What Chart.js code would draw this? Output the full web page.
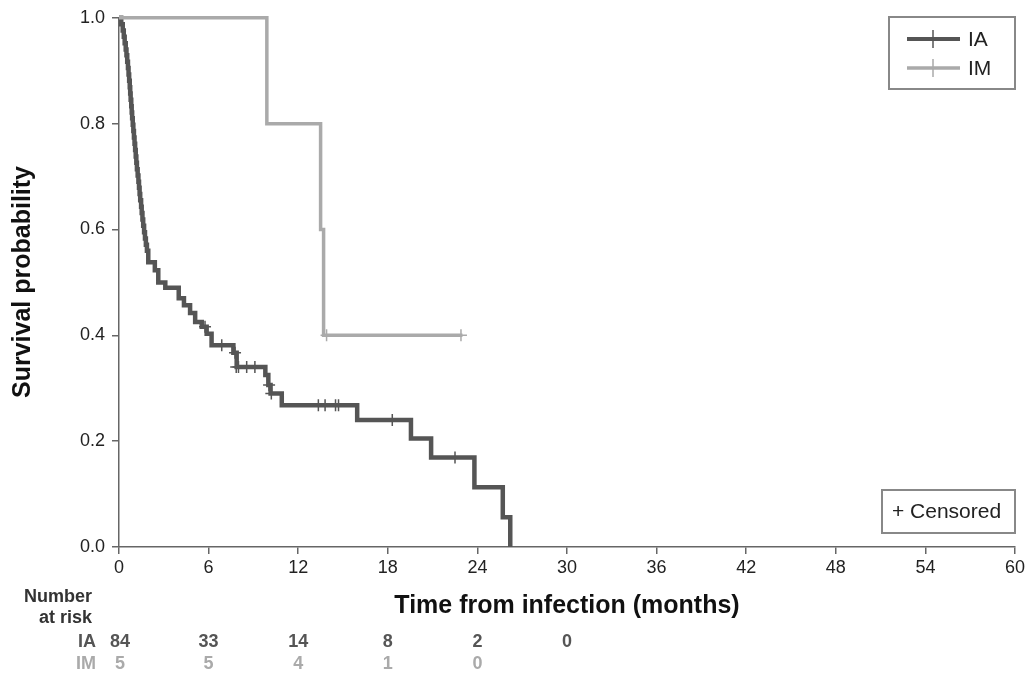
<!DOCTYPE html>
<html>
<head>
<meta charset="utf-8">
<script src="https://cdn.jsdelivr.net/npm/chart.js@4.4.1/dist/chart.umd.min.js"></script>
<style>
  html, body { margin: 0; padding: 0; background: #fff; }
</style>
</head>
<body>
<canvas id="kmChart" width="1033" height="677"></canvas>
<script>
// IA group: time of each drop (months) and survival after it
const iaTimes = [0, 0.15, 0.25, 0.32, 0.38, 0.45, 0.5, 0.55, 0.6, 0.64, 0.68, 0.72, 0.75, 0.78, 0.82,
  0.85, 0.88, 0.92, 0.96, 1.0, 1.04, 1.08, 1.12, 1.16, 1.2, 1.25, 1.3, 1.34, 1.38, 1.42, 1.48,
  1.52, 1.57, 1.62, 1.68, 1.74, 1.8, 1.87, 1.96, 2.4, 2.63, 3.1, 4.0, 4.35, 4.76, 5.1, 5.54,
  5.87, 6.2, 7.66, 7.88, 9.8, 10.0, 10.15, 10.9, 15.95, 19.55, 20.9, 23.8, 25.7, 26.2];
const iaSurv = [1, 0.988, 0.976, 0.964, 0.952, 0.94, 0.929, 0.917, 0.905, 0.893, 0.881, 0.869, 0.857, 0.845, 0.833,
  0.821, 0.81, 0.798, 0.786, 0.774, 0.762, 0.75, 0.738, 0.726, 0.714, 0.702, 0.69, 0.679, 0.667, 0.655, 0.643,
  0.631, 0.619, 0.607, 0.595, 0.583, 0.571, 0.56, 0.538, 0.523, 0.50, 0.49, 0.47, 0.457, 0.442, 0.425, 0.416,
  0.403, 0.381, 0.367, 0.34, 0.325, 0.306, 0.29, 0.268, 0.24, 0.205, 0.169, 0.113, 0.056, 0];
const iaCensorTimes = [5.76, 6.88, 7.77, 7.85, 8.0, 8.55, 9.1, 10.05, 10.2, 13.35, 13.8, 14.5, 14.7, 18.3, 22.5];
const iaCensorSurv = [0.416, 0.381, 0.367, 0.34, 0.34, 0.34, 0.34, 0.306, 0.29, 0.268, 0.268, 0.268, 0.268, 0.24, 0.169];

// IM group
const imTimes = [0, 9.9, 13.5, 13.7, 23.0];
const imSurv = [1, 0.8, 0.6, 0.4, 0.4];
const imCensorTimes = [13.9, 22.9];
const imCensorSurv = [0.4, 0.4];

// number at risk table
const riskTimes = [0, 6, 12, 18, 24, 30];
const iaAtRisk = [84, 33, 14, 8, 2, 0];
const imAtRisk = [5, 5, 4, 1, 0];

const IA_COLOR = '#555555';
const IM_COLOR = '#aaaaaa';
const FONT = '"Liberation Sans", Arial, sans-serif';

function pts(xs, ys) {
  return xs.map((t, i) => ({ x: t, y: ys[i] }));
}

const extras = {
  id: 'extras',
  afterDraw(chart) {
    const { ctx, scales: { x } } = chart;
    ctx.save();

    // y axis title
    ctx.fillStyle = '#111';
    ctx.font = 'bold 25px ' + FONT;
    ctx.textAlign = 'center';
    ctx.textBaseline = 'middle';
    ctx.save();
    ctx.translate(23, 282);
    ctx.rotate(-Math.PI / 2);
    ctx.fillText('Survival probability', 0, 0);
    ctx.restore();

    // x axis title
    ctx.fillText('Time from infection (months)', 567, 606);

    // legend box
    ctx.strokeStyle = '#888';
    ctx.lineWidth = 2;
    ctx.strokeRect(889, 17, 126, 72);
    [[IA_COLOR, 'IA', 39, 4], [IM_COLOR, 'IM', 68, 3.5]].forEach(([col, txt, y, lw]) => {
      ctx.strokeStyle = col;
      ctx.lineWidth = lw;
      ctx.beginPath(); ctx.moveTo(907, y); ctx.lineTo(960, y); ctx.stroke();
      ctx.lineWidth = 1.5;
      ctx.beginPath(); ctx.moveTo(933, y - 9); ctx.lineTo(933, y + 9); ctx.stroke();
      ctx.fillStyle = '#222';
      ctx.font = '21px ' + FONT;
      ctx.textAlign = 'left';
      ctx.fillText(txt, 968, y + 1);
    });

    // censored box
    ctx.strokeStyle = '#888';
    ctx.lineWidth = 2;
    ctx.strokeRect(882, 490, 133, 43);
    ctx.fillStyle = '#222';
    ctx.fillText('+ Censored', 892, 512);

    // number at risk
    ctx.font = 'bold 18px ' + FONT;
    ctx.fillStyle = '#333';
    ctx.textAlign = 'right';
    ctx.fillText('Number', 92, 597);
    ctx.fillText('at risk', 92, 618);
    [[iaAtRisk, IA_COLOR, 'IA', 642], [imAtRisk, IM_COLOR, 'IM', 664]].forEach(([vals, col, lab, y]) => {
      ctx.fillStyle = col;
      ctx.textAlign = 'right';
      ctx.fillText(lab, 96, y);
      ctx.textAlign = 'center';
      vals.forEach((v, i) => ctx.fillText(String(v), x.getPixelForValue(riskTimes[i]) + (i === 0 ? 1 : 0), y));
    });
    ctx.restore();
  }
};

new Chart(document.getElementById('kmChart'), {
  type: 'line',
  data: {
    datasets: [{
      label: 'IM',
      data: pts(imTimes, imSurv),
      stepped: true,
      borderColor: IM_COLOR,
      borderWidth: 3.5,
      pointRadius: 0,
      fill: false,
      clip: false
    }, {
      label: 'IA',
      data: pts(iaTimes, iaSurv),
      stepped: true,
      borderColor: IA_COLOR,
      borderWidth: 4.5,
      pointRadius: 0,
      fill: false,
      clip: false
    }, {
      type: 'scatter',
      label: 'IA censored',
      data: pts(iaCensorTimes, iaCensorSurv),
      pointStyle: 'cross',
      pointRadius: 6,
      pointBorderWidth: 1.5,
      pointBorderColor: IA_COLOR,
      clip: false
    }, {
      type: 'scatter',
      label: 'IM censored',
      data: pts(imCensorTimes, imCensorSurv),
      pointStyle: 'cross',
      pointRadius: 6,
      pointBorderWidth: 1.5,
      pointBorderColor: IM_COLOR,
      clip: false
    }]
  },
  options: {
    responsive: false,
    animation: false,
    layout: { padding: { left: 0, right: 18, top: 17, bottom: 100 } },
    plugins: { legend: { display: false }, tooltip: { enabled: false } },
    scales: {
      x: {
        type: 'linear',
        min: 0,
        max: 60,
        ticks: { stepSize: 6, color: '#222', font: { size: 18, family: FONT }, padding: 3, maxRotation: 0 },
        grid: { drawOnChartArea: false, tickLength: 7, color: '#666', lineWidth: 1.5 },
        border: { color: '#666', width: 1.5 },
        afterFit(s) { s.height = 30; }
      },
      y: {
        min: 0,
        max: 1,
        ticks: { stepSize: 0.2, color: '#222', font: { size: 18, family: FONT }, padding: 7,
          callback: v => v.toFixed(1) },
        grid: { drawOnChartArea: false, tickLength: 7, color: '#666', lineWidth: 1.5 },
        border: { color: '#666', width: 1.5 },
        afterFit(s) { s.width = 119; }
      }
    }
  },
  plugins: [extras]
});
</script>
</body>
</html>
